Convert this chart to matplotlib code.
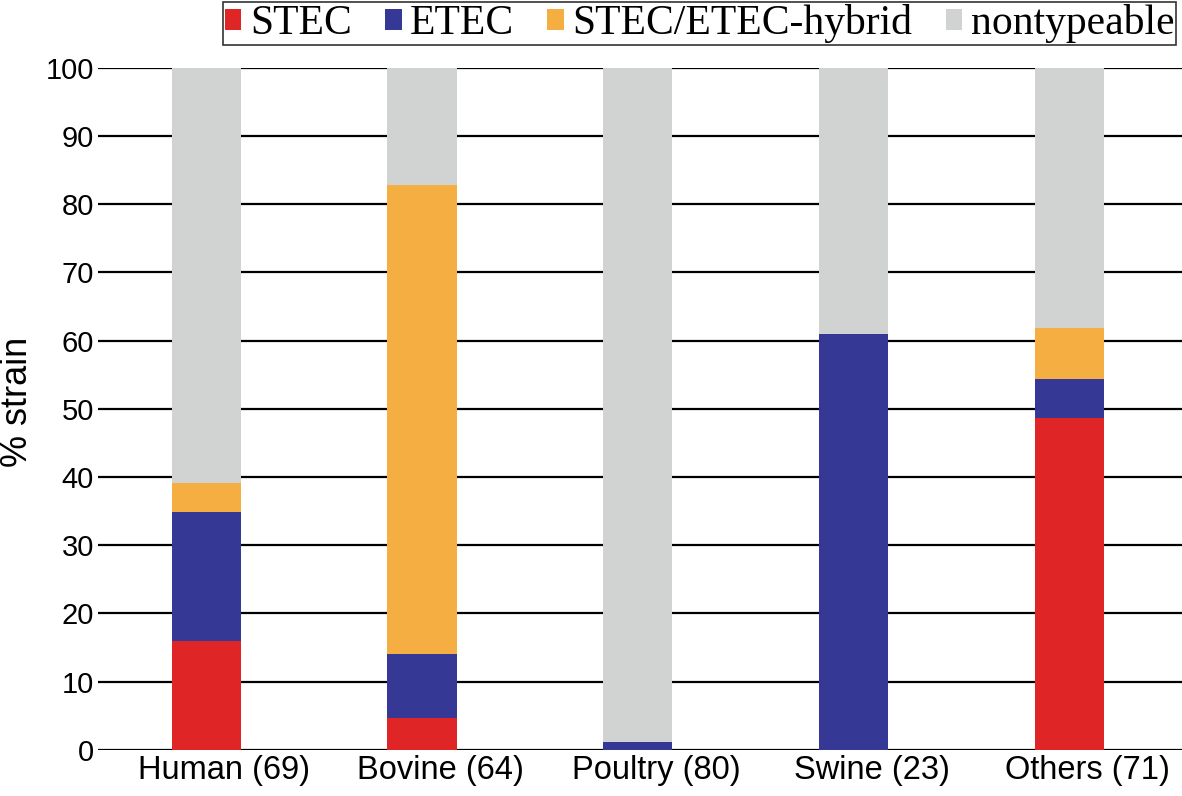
import numpy as np
import matplotlib.pyplot as plt
import matplotlib.transforms as mtransforms
from matplotlib.patches import Patch

# data (% of strains per host)
hosts = ['Human (69)', 'Bovine (64)', 'Poultry (80)', 'Swine (23)', 'Others (71)']
stec = [15.9, 4.7, 0.0, 0.0, 48.6]
etec = [18.9, 9.4, 1.2, 60.9, 5.7]
hybrid = [4.3, 68.7, 0.0, 0.0, 7.5]
nontype = [60.9, 17.2, 98.8, 39.1, 38.2]
labels = ['STEC', 'ETEC', 'STEC/ETEC-hybrid', 'nontypeable']
colors = ['#e02527', '#353894', '#f4ae42', '#d1d3d2']

fig = plt.figure(figsize=(11.82, 7.96), dpi=100)
ax = fig.add_axes([0.083, 0.058, 0.917, 0.857])

x = np.arange(len(hosts))
bottom = np.zeros(len(hosts))
for vals, c in zip([stec, etec, hybrid, nontype], colors):
    ax.bar(x, vals, width=0.32, bottom=bottom, color=c, zorder=3)
    bottom += np.array(vals)

ax.set_xlim(-0.5, 4.52)
ax.set_ylim(0, 100)
ax.set_yticks(np.arange(0, 101, 10))
ax.yaxis.grid(True, color='black', linewidth=1.6, zorder=0)
ax.set_axisbelow(True)
for s in ax.spines.values():
    s.set_visible(False)

ax.set_xticks(x)
ax.set_xticklabels(hosts, fontsize=23.5, family='Liberation Sans')
ax.tick_params(axis='x', length=0, pad=4)
# labels sit a little right of the bar centres in the original
shift = mtransforms.ScaledTranslation(0.18, 0, fig.dpi_scale_trans)
for t in ax.get_xticklabels():
    t.set_transform(t.get_transform() + shift)

ax.tick_params(axis='y', length=0, pad=3, labelsize=21)
for t in ax.get_yticklabels():
    t.set_family('Liberation Sans')

fig.text(0.0, 0.495, '% strain', rotation=90, ha='left', va='center',
         fontsize=26, family='Liberation Sans')

handles = [Patch(facecolor=c, edgecolor='none') for c in colors]
leg = fig.legend(handles, labels, loc='upper right', bbox_to_anchor=(0.997, 1.0),
                 ncol=4, frameon=True, fancybox=False, edgecolor='black',
                 prop={'family': 'Liberation Serif', 'size': 30},
                 handlelength=0.4, handleheight=0.4, handletextpad=0.2,
                 columnspacing=0.8, borderpad=0.05, borderaxespad=0.05)
leg.get_frame().set_linewidth(1.2)

fig.savefig('out.png', dpi=100)
